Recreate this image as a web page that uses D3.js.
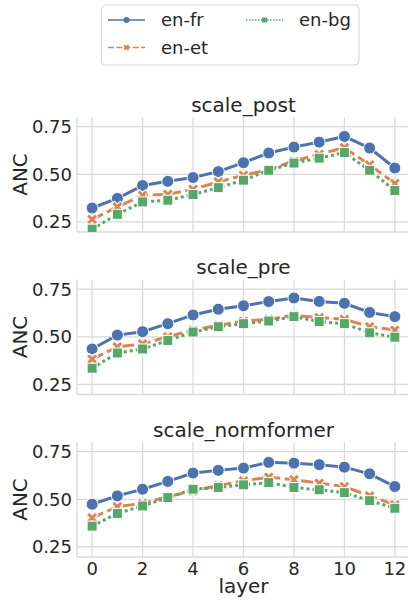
<!DOCTYPE html>
<html>
<head>
<meta charset="utf-8">
<script src="https://cdn.jsdelivr.net/npm/d3@7"></script>
<style>
  body { margin: 0; background: #fff; }
  svg { display: block; font-family: "DejaVu Sans", sans-serif; }
</style>
</head>
<body>
<svg id="chart" width="408" height="601"></svg>
<script>
const layers = [0,1,2,3,4,5,6,7,8,9,10,11,12];
const panels = ["scale_post", "scale_pre", "scale_normformer"];
const seriesNames = ["en-fr", "en-et", "en-bg"];
const xTicks = [0,2,4,6,8,10,12];
const yTicks = [0.25, 0.50, 0.75];

// scale_post
const postEnFr = [0.323,0.373,0.441,0.463,0.483,0.514,0.561,0.612,0.643,0.669,0.699,0.638,0.533];
const postEnEt = [0.263,0.329,0.390,0.395,0.421,0.460,0.495,0.525,0.570,0.605,0.640,0.550,0.452];
const postEnBg = [0.212,0.290,0.355,0.364,0.394,0.430,0.469,0.521,0.559,0.585,0.614,0.521,0.415];
// scale_pre
const preEnFr = [0.436,0.509,0.527,0.569,0.615,0.645,0.663,0.685,0.704,0.686,0.676,0.628,0.606];
const preEnEt = [0.383,0.447,0.463,0.500,0.536,0.560,0.583,0.592,0.613,0.601,0.592,0.553,0.536];
const preEnBg = [0.335,0.415,0.436,0.481,0.525,0.553,0.569,0.583,0.606,0.580,0.569,0.521,0.498];
// scale_normformer
const nfEnFr = [0.474,0.518,0.553,0.594,0.638,0.652,0.664,0.694,0.690,0.682,0.669,0.634,0.567];
const nfEnEt = [0.403,0.461,0.479,0.514,0.544,0.572,0.597,0.616,0.603,0.585,0.567,0.518,0.471];
const nfEnBg = [0.359,0.426,0.465,0.509,0.553,0.562,0.576,0.588,0.562,0.550,0.535,0.493,0.453];

const panelData = [
  [postEnFr, postEnEt, postEnBg],
  [preEnFr, preEnEt, preEnBg],
  [nfEnFr, nfEnEt, nfEnBg]
];

const colors = ["#4c72b0", "#dd8452", "#55a868"];
const dashes = [null, "12,4.5", "3,3"];
const legendDashes = [null, "6,2.25", "1.5,1.5"];
const textColor = "#262626";
const gridColor = "#d9d9d9";

const svg = d3.select("#chart");
const left = 77, right = 410;
const panelTops = [117, 279.5, 442];
const panelH = 115;

const x = d3.scaleLinear().domain([-0.6, 12.6]).range([left, right]);

function drawMarker(g, type, cx, cy, color) {
  if (type === 0) {
    g.append("circle").attr("cx", cx).attr("cy", cy).attr("r", 6)
      .attr("fill", color).attr("stroke", "#fff").attr("stroke-width", 1);
  } else if (type === 1) {
    g.append("path").attr("d", d3.symbol(d3.symbolCross, 80)())
      .attr("transform", `translate(${cx},${cy}) rotate(45)`)
      .attr("fill", color).attr("stroke", "#fff").attr("stroke-width", 1);
  } else {
    g.append("rect").attr("x", cx - 5).attr("y", cy - 5).attr("width", 10).attr("height", 10)
      .attr("fill", color).attr("stroke", "#fff").attr("stroke-width", 1);
  }
}

panels.forEach((name, pi) => {
  const top = panelTops[pi];
  const bottom = top + panelH;
  const y = d3.scaleLinear().domain([0.197, 0.801]).range([bottom, top]);
  const g = svg.append("g");

  const clipId = "clip" + pi;
  svg.append("clipPath").attr("id", clipId).append("rect")
    .attr("x", left).attr("y", top).attr("width", right - left).attr("height", panelH);

  g.selectAll(".vg").data(xTicks).join("line")
    .attr("x1", d => x(d)).attr("x2", d => x(d)).attr("y1", top).attr("y2", bottom)
    .attr("stroke", gridColor).attr("stroke-width", 1.2);
  g.selectAll(".hg").data(yTicks).join("line")
    .attr("x1", left).attr("x2", right).attr("y1", d => y(d)).attr("y2", d => y(d))
    .attr("stroke", gridColor).attr("stroke-width", 1.2);

  g.append("line").attr("x1", left).attr("x2", left).attr("y1", top).attr("y2", bottom)
    .attr("stroke", gridColor).attr("stroke-width", 1.3);
  g.append("line").attr("x1", left).attr("x2", right).attr("y1", bottom).attr("y2", bottom)
    .attr("stroke", gridColor).attr("stroke-width", 1.3);

  g.selectAll(".yt").data(yTicks).join("text")
    .attr("x", left - 5).attr("y", d => y(d)).attr("dy", "0.35em")
    .attr("text-anchor", "end").attr("font-size", 18).attr("fill", textColor)
    .text(d => d.toFixed(2));

  g.append("text").attr("x", (left + right) / 2).attr("y", top - 5.5)
    .attr("text-anchor", "middle").attr("font-size", 20).attr("fill", textColor).text(name);

  g.append("text").attr("transform", `translate(27,${(top + bottom) / 2}) rotate(-90)`)
    .attr("text-anchor", "middle").attr("font-size", 20).attr("fill", textColor).text("ANC");

  const sg = g.append("g").attr("clip-path", `url(#${clipId})`);
  panelData[pi].forEach((vals, si) => {
    const line = d3.line().x((d, i) => x(layers[i])).y(d => y(d));
    const p = sg.append("path").attr("d", line(vals)).attr("fill", "none")
      .attr("stroke", colors[si]).attr("stroke-width", 3);
    if (dashes[si]) p.attr("stroke-dasharray", dashes[si]);
    vals.forEach((v, i) => drawMarker(sg, si, x(layers[i]), y(v), colors[si]));
  });

  if (pi === 2) {
    g.selectAll(".xt").data(xTicks).join("text")
      .attr("x", d => x(d)).attr("y", bottom + 18).attr("text-anchor", "middle")
      .attr("font-size", 18).attr("fill", textColor).text(d => d);
    g.append("text").attr("x", (left + right) / 2).attr("y", bottom + 35.5)
      .attr("text-anchor", "middle").attr("font-size", 20).attr("fill", textColor).text("layer");
  }
});

// legend
const lg = svg.append("g");
lg.append("rect").attr("x", 101.5).attr("y", 5).attr("width", 257.5).attr("height", 60)
  .attr("rx", 4).attr("fill", "#fff").attr("stroke", "#d6d6d6").attr("stroke-width", 1);
const legendPos = [[108, 20], [108, 47.5], [246, 20]];
seriesNames.forEach((nm, si) => {
  const [lx, ly] = legendPos[si];
  const l = lg.append("line").attr("x1", lx).attr("x2", lx + 37).attr("y1", ly).attr("y2", ly)
    .attr("stroke", colors[si]).attr("stroke-width", 1.5);
  if (legendDashes[si]) l.attr("stroke-dasharray", legendDashes[si]);
  if (si === 0) {
    lg.append("circle").attr("cx", lx + 18.5).attr("cy", ly).attr("r", 3).attr("fill", colors[si]);
  } else if (si === 1) {
    lg.append("path").attr("d", d3.symbol(d3.symbolCross, 22)())
      .attr("transform", `translate(${lx + 18.5},${ly}) rotate(45)`).attr("fill", colors[si]);
  } else {
    lg.append("rect").attr("x", lx + 16).attr("y", ly - 2.5).attr("width", 5).attr("height", 5).attr("fill", colors[si]);
  }
  lg.append("text").attr("x", lx + 53).attr("y", ly).attr("dy", "0.35em")
    .attr("font-size", 18).attr("fill", textColor).text(nm);
});
</script>
</body>
</html>
